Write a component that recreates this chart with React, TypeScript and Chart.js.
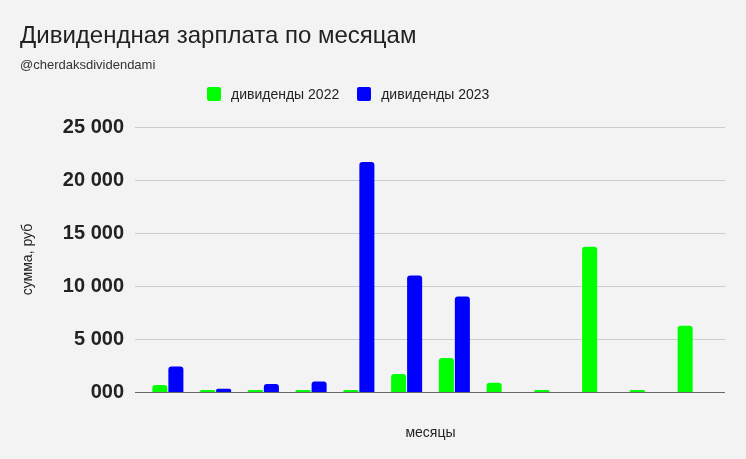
import { useEffect, useRef } from 'react';
import { Chart, Plugin, registerables } from 'chart.js';

Chart.register(...registerables);

const months = [
  'январь', 'февраль', 'март', 'апрель', 'май', 'июнь',
  'июль', 'август', 'сентябрь', 'октябрь', 'ноябрь', 'декабрь',
];
const dividends2022 = [650, 200, 200, 200, 200, 1700, 3200, 880, 200, 13700, 200, 6250];
const dividends2023 = [2400, 300, 750, 1000, 21700, 11000, 9000, null, null, null, null, null];
const yTicks = [0, 5000, 10000, 15000, 20000, 25000];

const GREEN = '#00ff00';
const BLUE = '#0000ff';
const FONT = 'Arial, "Liberation Sans", sans-serif';

// "25 000", "5 000", "000"
function formatRub(v: number) {
  const s = String(Math.round(v)).padStart(3, '0');
  return s.replace(/\B(?=(\d{3})+(?!\d))/g, ' ');
}

// google-style gridlines that run a bit past the bar groups
const gridPlugin: Plugin = {
  id: 'wideGrid',
  beforeDatasetsDraw(chart) {
    const { ctx, chartArea, scales } = chart;
    const y = scales.y;
    ctx.save();
    yTicks.forEach((t) => {
      const py = Math.round(y.getPixelForValue(t)) + 0.5;
      ctx.beginPath();
      ctx.strokeStyle = t === 0 ? '#666666' : '#cccccc';
      ctx.lineWidth = 1;
      ctx.moveTo(chartArea.left - 9, py);
      ctx.lineTo(chartArea.right + 8, py);
      ctx.stroke();
    });
    ctx.restore();
  },
};

export default function App() {
  const canvasRef = useRef<HTMLCanvasElement>(null);

  useEffect(() => {
    if (!canvasRef.current) return;
    const chart = new Chart(canvasRef.current, {
      type: 'bar',
      data: {
        labels: months,
        datasets: [
          {
            label: 'дивиденды 2022',
            data: dividends2022,
            backgroundColor: GREEN,
            borderRadius: 3,
            borderSkipped: 'bottom',
            barPercentage: 0.94,
            categoryPercentage: 0.67,
          },
          {
            label: 'дивиденды 2023',
            data: dividends2023,
            backgroundColor: BLUE,
            borderRadius: 3,
            borderSkipped: 'bottom',
            barPercentage: 0.94,
            categoryPercentage: 0.67,
          },
        ],
      },
      options: {
        animation: false,
        responsive: false,
        maintainAspectRatio: false,
        layout: { padding: { top: 127, left: 0, right: 29, bottom: 17 } },
        plugins: {
          legend: { display: false },
          tooltip: { enabled: false },
        },
        scales: {
          x: {
            grid: { display: false },
            border: { display: false },
            ticks: { display: false },
            title: {
              display: true,
              text: 'месяцы',
              color: '#222222',
              font: { family: FONT, size: 14 },
              padding: { top: 0, bottom: 0 },
            },
            afterFit(scale) {
              scale.height = 50;
            },
          },
          y: {
            min: 0,
            max: 25000,
            grid: { display: false, drawTicks: false },
            border: { display: false },
            ticks: {
              stepSize: 5000,
              padding: 20,
              color: '#222222',
              font: { family: FONT, size: 20, weight: 'bold' },
              callback: (v) => formatRub(Number(v)),
            },
            title: {
              display: true,
              text: 'сумма, руб',
              color: '#222222',
              font: { family: FONT, size: 14 },
              padding: { top: 20, bottom: 0 },
            },
            afterFit(scale) {
              scale.width = 144;
            },
          },
        },
      },
      plugins: [gridPlugin],
    });
    return () => chart.destroy();
  }, []);

  return (
    <div
      style={{
        position: 'fixed',
        left: 0,
        top: 0,
        width: 746,
        height: 459,
        background: '#f3f3f3',
        fontFamily: FONT,
      }}
    >
      <canvas ref={canvasRef} width={746} height={459} style={{ position: 'absolute', left: 0, top: 0 }} />
      <div style={{ position: 'absolute', left: 20, top: 21, fontSize: 24, lineHeight: '28px', color: '#222222' }}>
        Дивидендная зарплата по месяцам
      </div>
      <div style={{ position: 'absolute', left: 20, top: 57, fontSize: 13, lineHeight: '16px', color: '#333333' }}>
        @cherdaksdividendami
      </div>
      <div
        style={{
          position: 'absolute',
          left: 207,
          top: 86,
          display: 'flex',
          alignItems: 'center',
          fontSize: 14,
          lineHeight: '16px',
          color: '#222222',
        }}
      >
        <span style={{ width: 14, height: 14, background: GREEN, borderRadius: 2, marginRight: 10 }} />
        <span style={{ marginRight: 18 }}>дивиденды 2022</span>
        <span style={{ width: 14, height: 14, background: BLUE, borderRadius: 2, marginRight: 10 }} />
        <span>дивиденды 2023</span>
      </div>
    </div>
  );
}
